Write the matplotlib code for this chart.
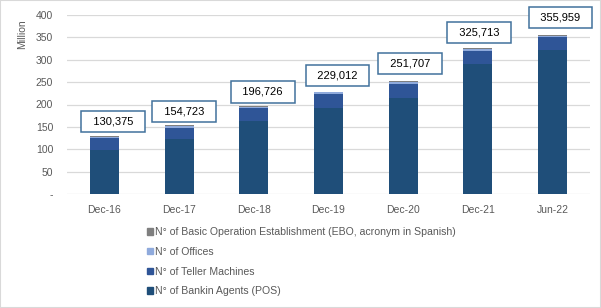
import numpy as np
import matplotlib
matplotlib.use("Agg")
import matplotlib.pyplot as plt
import matplotlib.patches as mpatches
from matplotlib.ticker import FuncFormatter

plt.rcParams['font.family'] = ['Liberation Sans', 'DejaVu Sans']

# Data (million)
periods = ["Dec-16", "Dec-17", "Dec-18", "Dec-19", "Dec-20", "Dec-21", "Jun-22"]
agents = [99.0, 123.6, 163.0, 191.5, 215.0, 290.5, 322.0]
tellers = [25.5, 24.0, 28.5, 32.0, 31.5, 29.0, 28.0]
offices = [3.8, 4.8, 3.5, 3.5, 3.5, 4.2, 4.0]
ebo = [2.075, 2.323, 1.726, 2.012, 1.707, 2.013, 1.959]
totals = ["130,375", "154,723", "196,726", "229,012", "251,707", "325,713", "355,959"]

series = [
    ("N° of Bankin Agents (POS)", agents, "#1F4E79"),
    ("N° of Teller Machines", tellers, "#2F5597"),
    ("N° of Offices", offices, "#8FAADC"),
    ("N° of Basic Operation Establishment (EBO, acronym in Spanish)", ebo, "#7F7F7F"),
]

# label box offsets in pixels (x, y above bar top)
label_dx = [9, 5, 9, 9, 7, 1, 8]
label_dy = [14, 13, 14, 16, 18, 16, 17]

grey = "#595959"

fig = plt.figure(figsize=(6.01, 3.08), dpi=100)
ax = fig.add_axes([67/601, 1-194/308, 523/601, 179/308])

x = np.arange(len(periods))
bottom = np.zeros(len(periods))
handles = []
for name, vals, col in series:
    ax.bar(x, vals, width=0.39, bottom=bottom, color=col, edgecolor='none', zorder=3)
    bottom += np.array(vals)
    handles.append(mpatches.Patch(color=col, label=name))

for i in range(len(periods)):
    ax.annotate("  " + totals[i] + "  ", xy=(x[i], bottom[i]),
                xytext=(label_dx[i]*0.72, label_dy[i]*0.72), textcoords='offset points',
                ha='center', va='center', fontsize=8, color='#000000',
                bbox=dict(boxstyle='square,pad=0.5', fc='white', ec='#41719C', lw=1.1),
                zorder=5)

ax.set_ylim(0, 400)
ax.set_xlim(-0.5, len(periods) - 0.5)
ax.set_yticks(np.arange(0, 401, 50))
ax.yaxis.set_major_formatter(FuncFormatter(lambda v, p: "-" if v == 0 else "%d" % v))
ax.set_xticks(x)
ax.set_xticklabels(periods)
ax.tick_params(axis='both', length=0, labelsize=7.5, labelcolor=grey)
ax.tick_params(axis='x', pad=8)
ax.tick_params(axis='y', pad=10)
ax.grid(axis='y', color='#D9D9D9', lw=0.9, zorder=0)
for s in ax.spines.values():
    s.set_visible(False)

fig.text(22/601, 1-34/308, "Million", rotation=90, ha='center', va='center',
         fontsize=7.5, color=grey)

leg = fig.legend(handles=handles[::-1], loc='upper left',
                 bbox_to_anchor=(143/601, 1-223/308), frameon=False,
                 fontsize=7.6, labelcolor=grey, handlelength=0.55, handleheight=0.55,
                 handletextpad=0.2, labelspacing=0.92, borderaxespad=0)

fig.patches.append(mpatches.Rectangle((0, 0), 1, 1, transform=fig.transFigure,
                                      fill=False, ec='#D9D9D9', lw=1.5))

fig.savefig("out.png", dpi=100)
